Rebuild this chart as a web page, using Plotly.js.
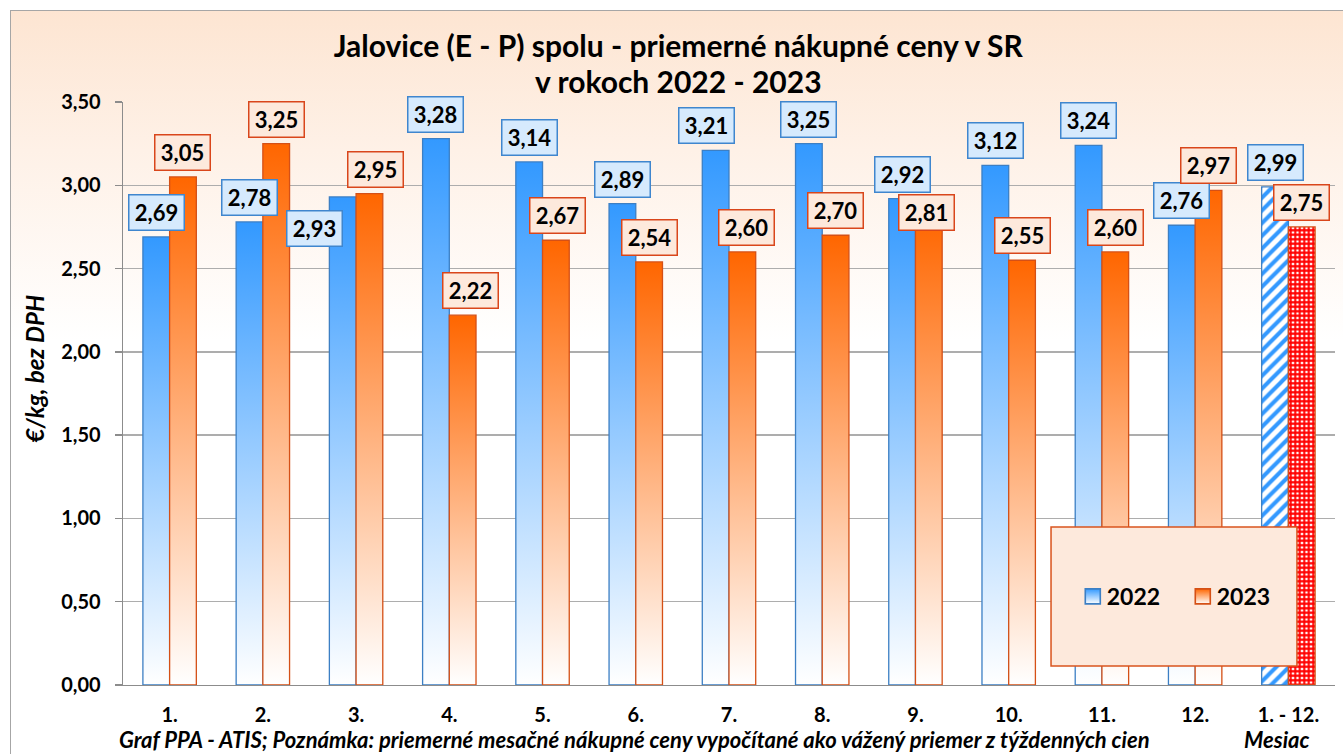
<!DOCTYPE html>
<html>
<head>
<meta charset="utf-8">
<script src="https://cdn.plot.ly/plotly-3.0.1.min.js"></script>
<style>
html,body{margin:0;padding:0;overflow:hidden;background:#fff;width:1343px;height:754px;}
#frame{position:absolute;left:10px;top:10px;width:1400px;height:800px;border:1.5px solid #A6A6A6;
  background:linear-gradient(to bottom,#FDE5D2 0px,#FEF1E7 140px,#FFFFFF 330px);}
#chart{position:absolute;left:0;top:0;width:1343px;height:754px;}
</style>
</head>
<body>
<div id="frame"></div>
<div id="chart"></div>
<script>
// ---- data ----
const categories = ['1.', '2.', '3.', '4.', '5.', '6.', '7.', '8.', '9.', '10.', '11.', '12.', '1. - 12.'];
const prices2022 = [2.69, 2.78, 2.93, 3.28, 3.14, 2.89, 3.21, 3.25, 2.92, 3.12, 3.24, 2.76, 2.99];
const prices2023 = [3.05, 3.25, 2.95, 2.22, 2.67, 2.54, 2.60, 2.70, 2.81, 2.55, 2.60, 2.97, 2.75];
const seriesNames = ['2022', '2023'];
const titleLine1 = 'Jalovice (E - P) spolu - priemerné nákupné ceny v SR';
const titleLine2 = 'v rokoch 2022 - 2023';
const yTitleText = '€/kg, bez DPH';
const xTitleText = 'Mesiac';
const noteText = 'Graf PPA - ATIS; Poznámka: priemerné mesačné nákupné ceny vypočítané ako vážený priemer z týždenných cien';

// ---- style ----
const F = 'Lato, "Open Sans", sans-serif';
const BARGAP = 0.427;
const HALF = (1 - BARGAP) / 4;
const blueLine = '#3C7FC4', orangeLine = '#D55016';
// label nudges (pixels) by series and category index
const nudges = [
  {2: {dx: -28, dy: -50}, 6: {dx: -9}},
  {2: {dx: 6}, 3: {dx: 8}, 4: {dx: 2}, 6: {dx: 4}, 8: {dx: -2, dy: -14}}
];
const boxStyles = [
  {bg: '#D6EAFD', border: '#3F86CE'},
  {bg: '#FDE9DC', border: '#D9461B'}
];

function fmt(v) { return v.toFixed(2).replace('.', ','); }
function patternShapes(last) { return categories.map((c, i) => i === categories.length - 1 ? last : ''); }

const trace2022 = {
  type: 'bar', name: seriesNames[0], x: categories, y: prices2022,
  marker: {
    color: '#3399FF', line: {color: blueLine, width: 1.3},
    pattern: {shape: patternShapes('/'), fgcolor: '#3399FF', bgcolor: '#FFFFFF', size: 9, solidity: 0.45}
  },
  hoverinfo: 'skip'
};
const trace2023 = {
  type: 'bar', name: seriesNames[1], x: categories, y: prices2023,
  marker: {
    color: '#FF6600', line: {color: orangeLine, width: 1.3},
    pattern: {shape: patternShapes('+'), fgcolor: '#FF0000', bgcolor: '#FFFFFF', size: 4.5, solidity: 0.7}
  },
  hoverinfo: 'skip'
};

const annotations = [];
[prices2022, prices2023].forEach((vals, s) => {
  vals.forEach((v, i) => {
    const n = nudges[s][i] || {};
    annotations.push({
      xref: 'x', yref: 'y', x: i + (s === 0 ? -HALF : HALF), y: v,
      text: fmt(v), showarrow: false, xanchor: 'center', yanchor: 'bottom',
      xshift: n.dx || 0, yshift: (n.dy !== undefined ? n.dy : 6),
      font: {family: F, size: 22, color: '#000000', weight: 'bold'},
      bgcolor: boxStyles[s].bg, bordercolor: boxStyles[s].border, borderwidth: 1.5,
      borderpad: 4, width: 46, height: 26
    });
  });
});
annotations.push({
  xref: 'paper', yref: 'paper', x: 0.458, y: 1.036, showarrow: false,
  xanchor: 'center', yanchor: 'middle', text: titleLine2,
  font: {family: F, size: 30, color: '#000', weight: 'bold'}
});
annotations.push({
  xref: 'paper', yref: 'paper', x: -0.0734, y: 0.543, textangle: -90, showarrow: false,
  xanchor: 'center', yanchor: 'middle', text: yTitleText,
  font: {family: F, size: 24, color: '#000', weight: 'bold', style: 'italic'}
});
annotations.push({
  xref: 'paper', yref: 'paper', x: -0.004, y: -0.1184, showarrow: false,
  xanchor: 'left', yanchor: 'bottom', text: noteText, borderpad: 0,
  font: {family: F, size: 22, color: '#000', weight: 'bold', style: 'italic'}
});
annotations.push({
  xref: 'paper', yref: 'paper', x: 0.952, y: -0.1184, showarrow: false,
  xanchor: 'center', yanchor: 'bottom', text: xTitleText, borderpad: 0,
  font: {family: F, size: 22, color: '#000', weight: 'bold', style: 'italic'}
});

const layout = {
  width: 1343, height: 754,
  margin: {l: 123, r: 8, t: 102, b: 69, autoexpand: false},
  paper_bgcolor: 'rgba(0,0,0,0)', plot_bgcolor: 'rgba(0,0,0,0)',
  separators: ',.',
  barmode: 'group', bargap: BARGAP, bargroupgap: 0,
  title: {
    text: titleLine1, xref: 'container', x: 0.505, xanchor: 'center',
    yref: 'container', y: 1 - 46 / 754, yanchor: 'middle',
    font: {family: F, size: 30, color: '#000', weight: 'bold'}
  },
  xaxis: {
    type: 'category', range: [-0.5, 12.5], showline: true, linecolor: '#8C8C8C', linewidth: 1.3,
    ticks: '', showgrid: false, zeroline: false, ticklabelstandoff: 12,
    tickfont: {family: F, size: 20, color: '#000', weight: 'bold'}, fixedrange: true
  },
  yaxis: {
    range: [0, 3.5], tick0: 0, dtick: 0.5, tickformat: '.2f',
    showgrid: true, gridcolor: '#ADADAD', gridwidth: 1.3,
    showline: true, linecolor: '#8C8C8C', linewidth: 1.3,
    ticks: 'outside', ticklen: 7, tickcolor: '#8C8C8C', tickwidth: 1.3,
    zeroline: false, ticklabelstandoff: 10,
    tickfont: {family: F, size: 20, color: '#000', weight: 'bold'}, fixedrange: true
  },
  showlegend: true,
  legend: {
    orientation: 'h', x: 0.7787, xanchor: 'left', y: 0.152, yanchor: 'middle',
    bgcolor: 'rgba(0,0,0,0)', borderwidth: 0, entrywidth: 65, itemwidth: 30,
    font: {family: F, size: 23, color: '#000', weight: 'bold'}
  },
  shapes: [{
    type: 'rect', xref: 'paper', yref: 'paper', x0: 0.7657, x1: 0.9686, y0: 0.0326, y1: 0.271,
    layer: 'above', fillcolor: '#FDE9DC', line: {color: '#D9541E', width: 1.5}
  }],
  annotations: annotations,
  hovermode: false
};

const gd = document.getElementById('chart');
function svgEl(tag, attrs) {
  const e = document.createElementNS('http://www.w3.org/2000/svg', tag);
  Object.keys(attrs).forEach(k => e.setAttribute(k, attrs[k]));
  return e;
}
function addGradient(defs, id, top, bottom) {
  const g = svgEl('linearGradient', {id: id, x1: '0', y1: '0', x2: '0', y2: '1'});
  g.appendChild(svgEl('stop', {offset: '0', 'stop-color': top}));
  g.appendChild(svgEl('stop', {offset: '1', 'stop-color': bottom}));
  defs.appendChild(g);
}
Plotly.newPlot(gd, [trace2022, trace2023], layout, {staticPlot: true, displayModeBar: false}).then(() => {
  const svg = gd.querySelector('svg.main-svg');
  let defs = svg.querySelector('defs');
  if (!defs) { defs = svgEl('defs', {}); svg.insertBefore(defs, svg.firstChild); }
  addGradient(defs, 'gradS0', '#3399FF', '#FFFFFF');
  addGradient(defs, 'gradS1', '#FF6600', '#FFFFFF');
  gd.querySelectorAll('.barlayer .trace').forEach((tr, ti) => {
    tr.querySelectorAll('.point').forEach((pt, pi) => {
      if (pi < categories.length - 1) {
        const p = pt.querySelector('path');
        if (p) p.style.fill = 'url(#gradS' + ti + ')';
      }
    });
  });
  gd.querySelectorAll('.legend .traces').forEach((tr, ti) => {
    tr.querySelectorAll('.legendpoints path').forEach(p => {
      p.style.fill = 'url(#gradS' + ti + ')';
      p.style.stroke = ti === 0 ? blueLine : orangeLine;
      const t = p.getAttribute('transform') || '';
      p.setAttribute('transform', t + ' translate(6,0) scale(1.25)');
    });
  });
});
</script>
</body>
</html>
